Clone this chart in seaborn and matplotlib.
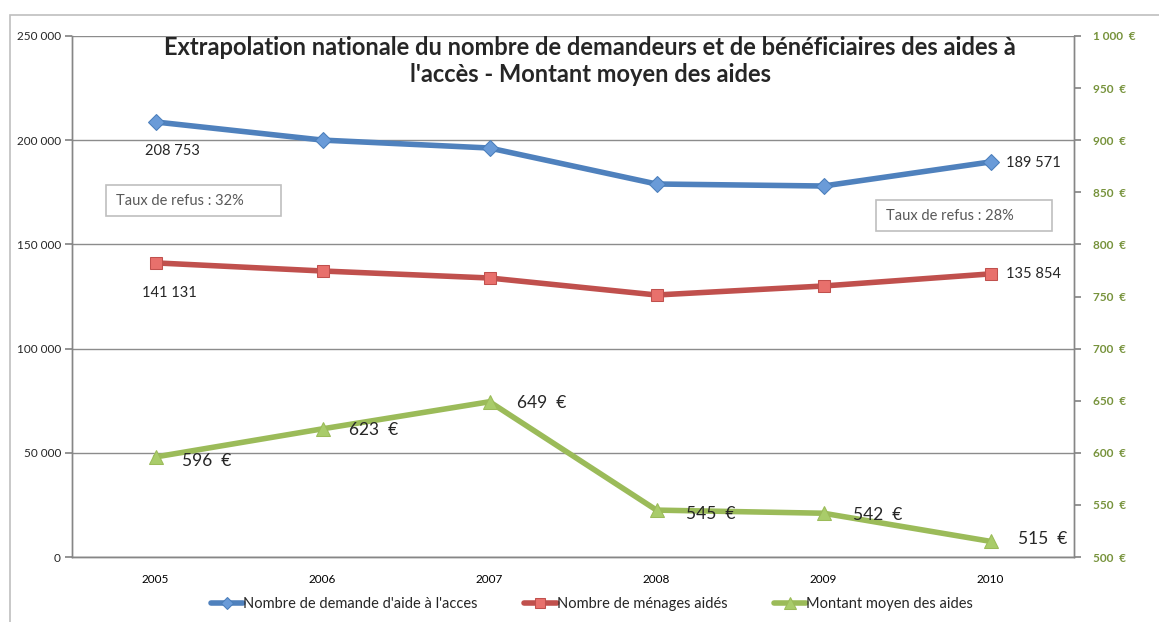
import matplotlib
matplotlib.use("Agg")
import matplotlib.pyplot as plt
import seaborn as sns
import pandas as pd
import numpy as np
from matplotlib.patches import Rectangle
from matplotlib.ticker import FixedLocator, FuncFormatter

years = ["2005", "2006", "2007", "2008", "2009", "2010"]
demandes = [208753, 200050, 196250, 178980, 178020, 189571]
menages = [141131, 137240, 133880, 125720, 130040, 135854]
montant = [596, 623, 649, 545, 542, 515]

label_demandes = "Nombre de demande d'aide à l'acces"
label_menages = "Nombre de ménages aidés"
label_montant = "Montant moyen des aides"

c_blue = "#4F81BD"
c_red = "#C0504D"
c_green = "#9BBB59"
c_green_txt = "#77933C"

sns.set_theme(style="white")
plt.rcParams['font.family'] = ['Lato', 'DejaVu Sans']

fig = plt.figure(figsize=(11.59, 6.22), dpi=100)
W, H = 1159, 622
ax = fig.add_axes([72 / W, 1 - 557 / H, (1074 - 72) / W, (557 - 36) / H])
ax2 = ax.twinx()

idx = np.arange(len(years))
df = pd.DataFrame({"x": idx, "dem": demandes, "men": menages, "mont": montant})

sns.lineplot(data=df, x="x", y="dem", ax=ax, color=c_blue, lw=4, marker="D",
             markersize=8, markerfacecolor="#6A9BD8", markeredgecolor="#4A7EBB",
             label=label_demandes, legend=False)
sns.lineplot(data=df, x="x", y="men", ax=ax, color=c_red, lw=4, marker="s",
             markersize=9, markerfacecolor="#E8706C", markeredgecolor="#C0504D",
             label=label_menages, legend=False)
sns.lineplot(data=df, x="x", y="mont", ax=ax2, color=c_green, lw=4, marker="^",
             markersize=10, markerfacecolor="#A9CC6A", markeredgecolor="#9BBB59",
             label=label_montant, legend=False)

ax.set_xlim(-0.5, 5.5)
ax.set_ylim(0, 250000)
ax2.set_ylim(500, 1000)

fmt_sp = lambda v, p=None: f"{int(v):,}".replace(",", " ")
ax.yaxis.set_major_locator(FixedLocator(np.arange(0, 250001, 50000)))
ax.yaxis.set_major_formatter(FuncFormatter(fmt_sp))
ax2.yaxis.set_major_locator(FixedLocator(np.arange(500, 1001, 50)))
ax2.yaxis.set_major_formatter(FuncFormatter(lambda v, p: f"{fmt_sp(v)}  €"))

ax.set_xticks(idx)
ax.set_xticklabels(years)
ax.set_xticks(np.arange(-0.5, 5.6, 1), minor=True)
ax.tick_params(axis="x", which="major", length=0, labelsize=8.5, pad=12, colors="#000000")
ax.tick_params(axis="x", which="minor", length=5, color="#868686", direction="out")
ax.tick_params(axis="y", length=5, color="#868686", direction="out", labelsize=8.5, pad=3)
ax2.tick_params(axis="y", length=5, color="#868686", direction="out", labelsize=8.5,
                labelcolor=c_green_txt, pad=9)
for t in ax2.get_yticklabels():
    t.set_fontweight("bold")

ax.grid(axis="y", color="#8C8C8C", lw=1)
ax.set_axisbelow(True)
for a in (ax, ax2):
    a.spines["top"].set_visible(False)
    for s in ["left", "right", "bottom"]:
        a.spines[s].set_color("#868686")
        a.spines[s].set_linewidth(1)
ax.set_xlabel("")
ax.set_ylabel("")
ax2.set_ylabel("")

# data labels
ax.annotate(fmt_sp(demandes[0]), (0, demandes[0]), xytext=(12, -21), textcoords="offset points",
            ha="center", va="center", fontsize=10.5)
ax.annotate(fmt_sp(menages[0]), (0, menages[0]), xytext=(10, -22), textcoords="offset points",
            ha="center", va="center", fontsize=10.5)
ax.annotate(fmt_sp(demandes[-1]), (5, demandes[-1]), xytext=(11, -1), textcoords="offset points",
            ha="left", va="center", fontsize=10.5)
ax.annotate(fmt_sp(menages[-1]), (5, menages[-1]), xytext=(11, 0), textcoords="offset points",
            ha="left", va="center", fontsize=10.5)
green_offsets = [(19, -3), (19, -1), (20, -1), (21, -3), (21, -1), (20, 2)]
for i, v in enumerate(montant):
    ax2.annotate(f"{v}  €", (i, v), xytext=green_offsets[i], textcoords="offset points",
                 ha="left", va="center", fontsize=12.5)

# text boxes
for (x0, y0, x1, y1, txt) in [(106, 185, 281, 216, "Taux de refus : 32%"),
                               (876, 200, 1052, 231, "Taux de refus : 28%")]:
    fig.patches.append(Rectangle((x0 / W, 1 - y1 / H), (x1 - x0) / W, (y1 - y0) / H,
                                 transform=fig.transFigure, fc="white", ec="#BFBFBF", lw=1.2,
                                 zorder=5))
    fig.text((x0 + 10) / W, 1 - ((y0 + y1) / 2 + 1) / H, txt, ha="left", va="center",
             fontsize=10.5, color="#595959", zorder=6)

# title
fig.text(590 / W, 1 - 61 / H,
         "Extrapolation nationale du nombre de demandeurs et de bénéficiaires des aides à\nl'accès - Montant moyen des aides",
         ha="center", va="center", fontsize=17, fontweight="bold", linespacing=1.2)

# legend
h1, l1 = ax.get_legend_handles_labels()
h2, l2 = ax2.get_legend_handles_labels()
fig.legend(h1 + h2, l1 + l2, loc="center", bbox_to_anchor=(592 / W, 1 - 604 / H), ncol=3,
           frameon=False, fontsize=10.5, handlelength=2.2, handletextpad=0.0, columnspacing=3.2,
           markerscale=0.8)

# outer frame
fig.patches.append(Rectangle((10 / W, -0.1), 1.2, 1 - 15 / H + 0.1, transform=fig.transFigure,
                             fill=False, ec="#BFBFBF", lw=1.2))

fig.savefig("out.png", dpi=100)
